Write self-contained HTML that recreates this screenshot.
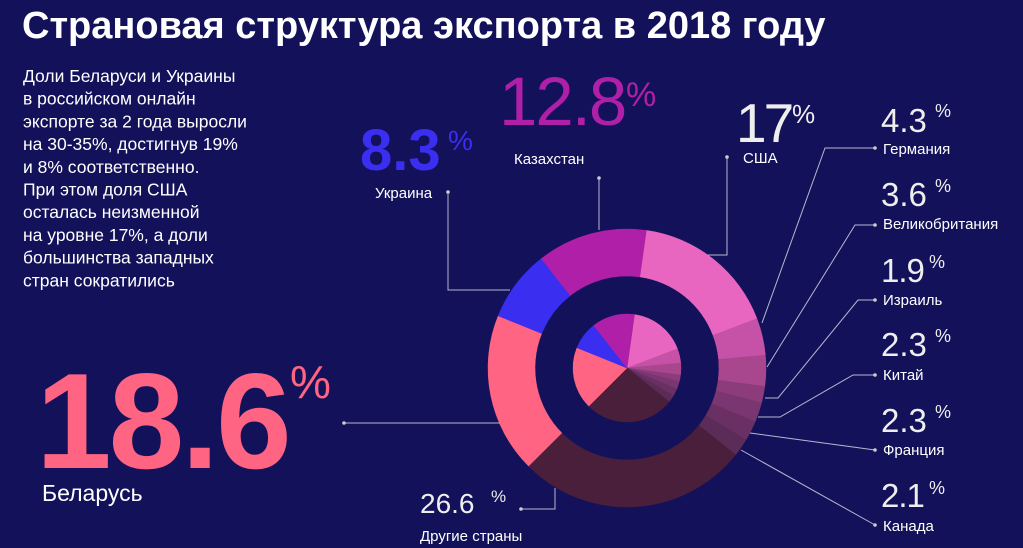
<!DOCTYPE html>
<html><head><meta charset="utf-8"><style>
html,body{margin:0;padding:0;background:#13115a;}
svg{display:block}
text{font-family:"Liberation Sans",sans-serif;}
</style></head><body>
<svg id="s" width="1023" height="548" viewBox="0 0 1023 548" xmlns="http://www.w3.org/2000/svg">
<rect width="1023" height="548" fill="#13115a"/>
<g id="donut"></g>
<text x="22" y="38" font-size="38" font-weight="bold" fill="#fff">Страновая структура экспорта в 2018 году</text>
<g fill="#fff" font-size="17.5">
<text x="23" y="82">Доли Беларуси и Украины</text>
<text x="23" y="104.7">в российском онлайн</text>
<text x="23" y="127.4">экспорте за 2 года выросли</text>
<text x="23" y="150.1">на 30-35%, достигнув 19%</text>
<text x="23" y="172.8">и 8% соответственно.</text>
<text x="23" y="195.5">При этом доля США</text>
<text x="23" y="218.2">осталась неизменной</text>
<text x="23" y="240.9">на уровне 17%, а доли</text>
<text x="23" y="263.6">большинства западных</text>
<text x="23" y="286.3">стран сократились</text>
</g>
<!-- Belarus -->
<text x="36" y="468" font-size="136" font-weight="bold" fill="#ff6482" letter-spacing="-3">18.6</text>
<text x="290" y="398" font-size="46" fill="#ff6482">%</text>
<text x="42" y="501" font-size="23" fill="#fff">Беларусь</text>
<!-- Ukraine -->
<text x="360" y="170" font-size="58" font-weight="bold" fill="#3a2ef0">8.3</text>
<text x="448" y="150" font-size="28" fill="#3a2ef0">%</text>
<text x="375" y="198" font-size="15" fill="#fff">Украина</text>
<!-- Kazakhstan -->
<text x="499" y="125" font-size="69" fill="#b01fa8" letter-spacing="-2">12.8</text>
<text x="626" y="106" font-size="34" fill="#b01fa8">%</text>
<text x="514" y="164" font-size="15" fill="#fff">Казахстан</text>
<!-- USA -->
<text x="736" y="142" font-size="55" fill="#eee" letter-spacing="-3">17</text>
<text x="792" y="123" font-size="26" fill="#eee">%</text>
<text x="743" y="163" font-size="15" fill="#fff">США</text>
<!-- Others -->
<text x="420" y="513" font-size="28" fill="#eee">26.6</text>
<text x="491" y="502" font-size="17" fill="#eee">%</text>
<text x="420" y="541" font-size="15" fill="#fff">Другие страны</text>
<!-- right labels -->
<g fill="#eee">
<text x="881" y="132" font-size="33">4.3</text><text x="935" y="117" font-size="18">%</text>
<text x="883" y="154" font-size="15" fill="#fff">Германия</text>
<text x="881" y="206" font-size="33">3.6</text><text x="935" y="192" font-size="18">%</text>
<text x="883" y="229" font-size="15" fill="#fff">Великобритания</text>
<text x="881" y="282" font-size="33" letter-spacing="-1">1.9</text><text x="929" y="268" font-size="18">%</text>
<text x="883" y="305" font-size="15" fill="#fff">Израиль</text>
<text x="881" y="356" font-size="33">2.3</text><text x="935" y="342" font-size="18">%</text>
<text x="883" y="380" font-size="15" fill="#fff">Китай</text>
<text x="881" y="432" font-size="33">2.3</text><text x="935" y="418" font-size="18">%</text>
<text x="883" y="455" font-size="15" fill="#fff">Франция</text>
<text x="881" y="507" font-size="33" letter-spacing="-1">2.1</text><text x="929" y="494" font-size="18">%</text>
<text x="883" y="531" font-size="15" fill="#fff">Канада</text>
</g>
<!-- leader lines -->
<g stroke="#b8b8d0" stroke-width="1" fill="none">
<polyline points="448,192 448,290 510,290"/>
<polyline points="599,178 599,230"/>
<polyline points="727,157 727,255 708,255"/>
<polyline points="344,423 500,423"/>
<polyline points="521,509 555,509 555,488"/>
<polyline points="875,148 825,148 762,323"/>
<polyline points="875,225 855,225 767,367"/>
<polyline points="875,300 858,300 778,398 765,398"/>
<polyline points="875,375 853,375 780,417 758,417"/>
<polyline points="875,450 750,433"/>
<polyline points="875,525 741,450"/>
</g>
<g fill="#ccc">
<circle cx="448" cy="192" r="1.8"/><circle cx="599" cy="178" r="1.8"/><circle cx="727" cy="157" r="1.8"/>
<circle cx="344" cy="423" r="1.8"/><circle cx="521" cy="509" r="1.8"/>
<circle cx="875" cy="148" r="1.8"/><circle cx="875" cy="225" r="1.8"/><circle cx="875" cy="300" r="1.8"/>
<circle cx="875" cy="375" r="1.8"/><circle cx="875" cy="450" r="1.8"/><circle cx="875" cy="525" r="1.8"/>
</g>
</svg>
<script>
(function(){
var cx=627,cy=368,R=139,r0=92,pr=54;
var d=[[17,"#e866c0"],[4.3,"#c552a6"],[3.6,"#a8468e"],[1.9,"#8c3c7a"],[2.3,"#7a3670"],[2.3,"#6a3064"],[2.1,"#5c2c58"],[26.8,"#4a1f3c"],[18.6,"#ff6482"],[8.3,"#3a2ef0"],[12.8,"#b01fa8"]];
var g=document.getElementById("donut");
function pt(a,rr){var t=(a-90)*Math.PI/180;return [cx+rr*Math.cos(t),cy+rr*Math.sin(t)];}
var a=8,tot=100,html="";
d.forEach(function(s){
 var sw=s[0]/tot*360,b=a+sw,l=sw>180?1:0;
 var p1=pt(a,R),p2=pt(b,R),p3=pt(b,r0),p4=pt(a,r0);
 html+='<path fill="'+s[1]+'" stroke="'+s[1]+'" stroke-width="0.5" d="M'+p1+' A'+R+','+R+' 0 '+l+' 1 '+p2+' L'+p3+' A'+r0+','+r0+' 0 '+l+' 0 '+p4+'Z"/>';
 var q1=pt(a,pr),q2=pt(b,pr);
 html+='<path fill="'+s[1]+'" stroke="'+s[1]+'" stroke-width="0.5" d="M'+cx+','+cy+' L'+q1+' A'+pr+','+pr+' 0 '+l+' 1 '+q2+'Z"/>';
 a=b;
});
g.innerHTML=html;
})();
</script>
</body></html>
